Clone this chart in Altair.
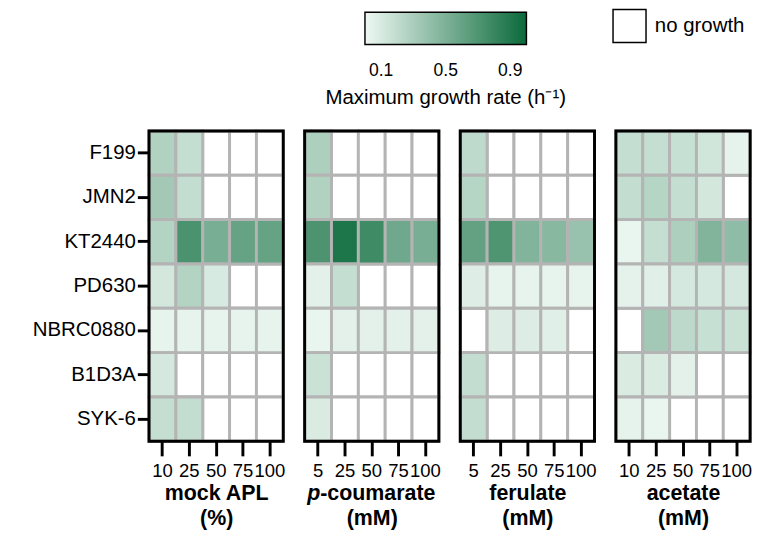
import altair as alt
import pandas as pd

strains = ["F199", "JMN2", "KT2440", "PD630", "NBRC0880", "B1D3A", "SYK-6"]

apl_levels = ["10", "25", "50", "75", "100"]
pcou_levels = ["5", "25", "50", "75", "100"]
fer_levels = ["5", "25", "50", "75", "100"]
ace_levels = ["10", "25", "50", "75", "100"]

# maximum growth rate (h^-1); None = no growth
apl_rates = [
    [0.27, 0.18, None, None, None],
    [0.33, 0.19, None, None, None],
    [0.26, 0.72, 0.52, 0.60, 0.60],
    [0.12, 0.26, 0.10, None, None],
    [0.03, 0.03, 0.03, 0.03, 0.03],
    [0.11, None, None, None, None],
    [0.18, 0.19, None, None, None],
]
pcou_rates = [
    [0.29, None, None, None, None],
    [0.27, None, None, None, None],
    [0.71, 0.92, 0.77, 0.56, 0.52],
    [0.05, 0.18, None, None, None],
    [0.02, 0.05, 0.05, 0.05, 0.05],
    [0.16, None, None, None, None],
    [0.09, None, None, None, None],
]
fer_rates = [
    [0.21, None, None, None, None],
    [0.25, None, None, None, None],
    [0.61, 0.70, 0.48, 0.45, 0.38],
    [0.07, 0.03, 0.03, 0.03, 0.03],
    [None, 0.075, 0.075, 0.06, None],
    [0.19, None, None, None, None],
    [0.19, None, None, None, None],
]
ace_rates = [
    [0.18, 0.18, 0.17, 0.13, 0.035],
    [0.19, 0.25, 0.18, 0.12, None],
    [0.02, 0.18, 0.29, 0.48, 0.42],
    [0.04, 0.06, 0.11, 0.11, 0.11],
    [None, 0.33, 0.22, 0.17, 0.16],
    [0.09, 0.09, 0.05, None, None],
    [0.035, 0.02, None, None, None],
]

FONT = "Liberation Sans"
W, H = 138, 319

color_scale = alt.Scale(domain=[0, 1], range=["#eef8f3", "#0b6a3b"], interpolate="rgb")


def frame_df(levels, rates):
    rows = []
    for i, s in enumerate(strains):
        for j, lv in enumerate(levels):
            rows.append({"strain": s, "level": lv, "rate": rates[i][j], "status": "no growth"})
    return pd.DataFrame(rows)


def panel(levels, rates, title_lines, first=False, extra=None):
    df = frame_df(levels, rates)
    base = alt.Chart(df)
    xenc = alt.X(
        "level:N",
        sort=levels,
        scale=alt.Scale(paddingInner=0, paddingOuter=0),
        axis=alt.Axis(
            title=title_lines,
            labelAngle=0,
            labelFontSize=19,
            labelFont=FONT,
            labelColor="black",
            labelPadding=6,
            tickColor="black",
            tickWidth=3,
            tickSize=15,
            domain=False,
            titleFont=FONT,
            titleFontSize=22,
            titleFontWeight="bold",
            titleColor="black",
            titlePadding=3,
            titleLineHeight=26,
        ),
    )
    if first:
        yaxis = alt.Axis(
            title=None,
            labelFontSize=21,
            labelFont=FONT,
            labelColor="black",
            labelPadding=2,
            tickColor="black",
            tickWidth=3,
            tickSize=12,
            domain=False,
        )
    else:
        yaxis = None
    yenc = alt.Y("strain:N", sort=strains, scale=alt.Scale(paddingInner=0, paddingOuter=0), axis=yaxis)

    bg = base.mark_rect(stroke="#b4b4b4", strokeWidth=3).encode(
        x=xenc,
        y=yenc,
        fill=alt.Fill(
            "status:N",
            scale=alt.Scale(range=["white"]),
            legend=alt.Legend(
                title=None,
                orient="none",
                legendX=476,
                legendY=-126,
                symbolType="square",
                symbolSize=1150,
                symbolStrokeColor="black",
                symbolStrokeWidth=1.5,
                labelFontSize=21,
                labelFont=FONT,
                labelColor="black",
                labelOffset=8,
                labelLimit=300,
            ),
        ),
    )
    fg = base.mark_rect(stroke="#b4b4b4", strokeWidth=3).encode(
        x=xenc,
        y=yenc,
        color=alt.Color(
            "rate:Q",
            scale=color_scale,
            legend=alt.Legend(
                title="Maximum growth rate (h\u207b\u00b9)",
                orient="none",
                direction="horizontal",
                legendX=181,
                legendY=-122,
                gradientLength=166,
                gradientThickness=33,
                gradientStrokeColor="black",
                gradientStrokeWidth=1.5,
                values=[0.1, 0.5, 0.9],
                labelFontSize=18,
                labelFont=FONT,
                labelColor="black",
                labelOffset=18,
                titleOrient="bottom",
                titleAnchor="middle",
                titleFont=FONT,
                titleFontSize=21,
                titleFontWeight="normal",
                titleColor="black",
                titlePadding=8,
                titleLimit=500,
            ),
        ),
    ).transform_filter("isValid(datum.rate)")

    frame = alt.Chart(pd.DataFrame({"k": [0]})).mark_rect(
        fill="transparent", stroke="black", strokeWidth=3
    ).encode(x=alt.value(0), x2=alt.value(W), y=alt.value(0), y2=alt.value(H))

    layers = [bg, fg, frame]
    if extra is not None:
        layers += extra
    return alt.layer(*layers).properties(width=W, height=H)


one = pd.DataFrame({"k": [0]})
P_SPLIT = 16
P_BASE = H + 60
p_italic = alt.Chart(one).mark_text(
    text="p", font=FONT, fontSize=22, fontWeight="bold", fontStyle="italic",
    align="right", baseline="alphabetic", color="black"
).encode(x=alt.value(P_SPLIT), y=alt.value(P_BASE))
p_rest = alt.Chart(one).mark_text(
    text="-coumarate", font=FONT, fontSize=22, fontWeight="bold",
    align="left", baseline="alphabetic", color="black"
).encode(x=alt.value(P_SPLIT), y=alt.value(P_BASE))

c1 = panel(apl_levels, apl_rates, ["mock APL", "(%)"], first=True)
c2 = panel(pcou_levels, pcou_rates, ["\u00a0", "(mM)"], extra=[p_italic, p_rest])
c3 = panel(fer_levels, fer_rates, ["ferulate", "(mM)"])
c4 = panel(ace_levels, ace_rates, ["acetate", "(mM)"])

chart = (
    alt.hconcat(c1, c2, c3, c4, spacing=17)
    .properties(padding={"left": 24, "top": -7, "right": 2, "bottom": 0})
    .configure_view(stroke=None)
    .configure(font=FONT)
)

chart.save("out.html", embed_options={"renderer": "svg", "actions": False})
